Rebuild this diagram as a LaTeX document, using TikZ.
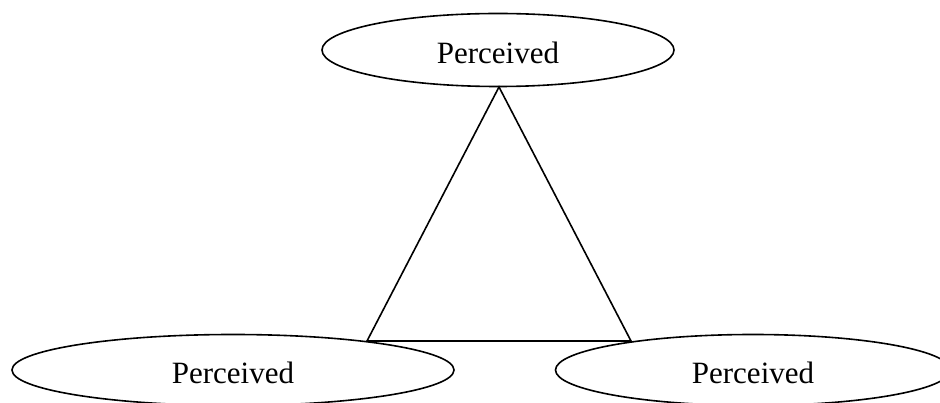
\documentclass[tikz,border=0pt]{standalone}
\usepackage{fontspec}
\setmainfont{Liberation Serif}
\usetikzlibrary{shapes.geometric}
\tikzset{
  ell/.style={draw, ellipse, line width=1.6pt, inner sep=0pt, text height=27.5pt, text depth=0pt, font=\fontsize{31}{37}\selectfont},
  edge/.style={draw, line width=1.6pt, line join=miter}
}
\begin{document}
\begin{tikzpicture}[x=1pt,y=-1pt]
\useasboundingbox (0,0) rectangle (940,403);
\clip (0,0) rectangle (940,403);
\node[ell, minimum width=352pt, minimum height=73pt] (top) at (498,50) {Perceived};
\node[ell, minimum width=442pt, minimum height=71pt] (left) at (233,370) {Perceived};
\node[ell, minimum width=395pt, minimum height=71pt] (right) at (753,370) {Perceived};
\coordinate (apex) at (499,87);
\coordinate (bl) at (367,341);
\coordinate (br) at (631,341);
\draw[edge] (apex) -- (bl) -- (br) -- cycle;
\end{tikzpicture}
\end{document}
